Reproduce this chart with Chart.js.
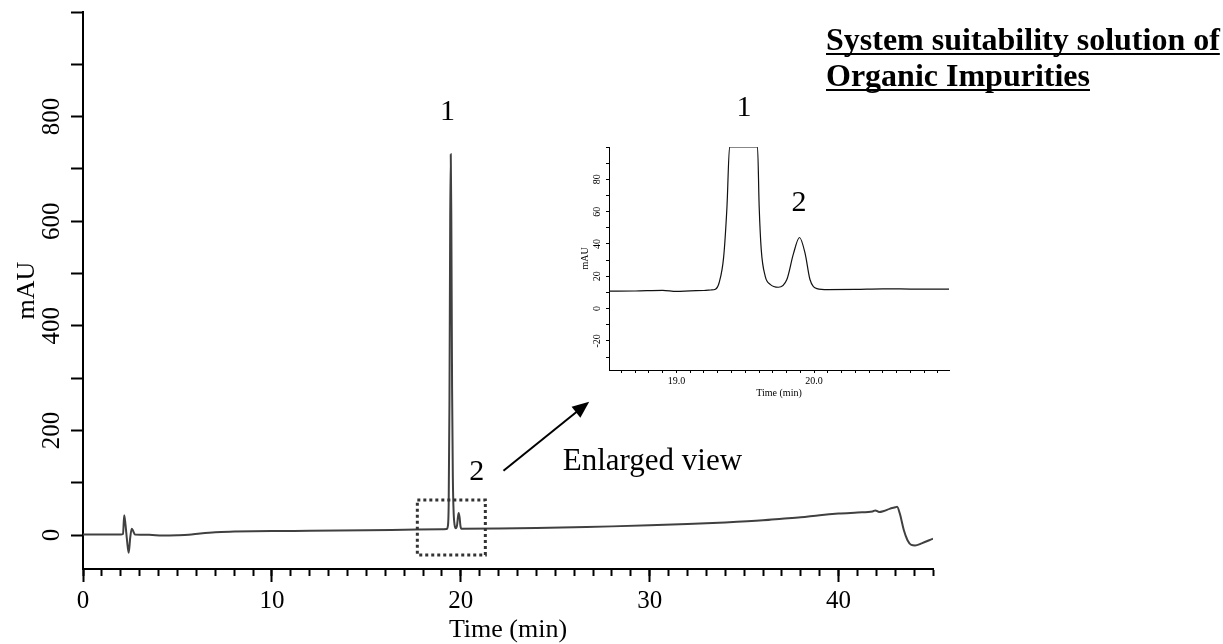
<!DOCTYPE html>
<html>
<head>
<meta charset="utf-8">
<script src="https://cdn.jsdelivr.net/npm/chart.js@4.4.1/dist/chart.umd.min.js"></script>
<style>
  body { margin: 0; background: #fff; }
  #wrap { position: relative; width: 1223px; height: 644px; }
  #main { position: absolute; left: 0; top: 0; }
  #inset { position: absolute; left: 560px; top: 80px; }
</style>
</head>
<body>
<div id="wrap">
  <canvas id="main" width="1223" height="644"></canvas>
  <canvas id="inset" width="400" height="330"></canvas>
</div>
<script>
// full run, 0-45 min
const timeMain = [0, 1, 2.0, 2.12, 2.18, 2.25, 2.33, 2.42, 2.5, 2.58, 2.65, 2.75, 3.5, 4.2, 5.0, 5.6, 6.2, 7, 8, 10, 12, 15, 17, 19.0,
  19.25, 19.32, 19.36, 19.4, 19.44, 19.47, 19.5, 19.54, 19.58, 19.62, 19.67, 19.74, 19.8, 19.85, 19.89, 19.94, 19.98, 20.03,
  22, 24, 26, 28, 30, 32, 34, 36, 37, 38, 39, 40, 41, 41.8, 41.95, 42.15, 42.4, 42.7, 43.0, 43.1, 43.25, 43.45, 43.65, 43.85, 44.05, 44.4, 45];
const mauMain = [1, 1, 1, 2, 38, 20, -10, -34, -5, 12, 8, 1, 0.5, -1, -0.5, 0.5, 3, 5.5, 6.5, 7.5, 8, 9, 10, 11,
  11.5, 18, 60, 250, 600, 728, 600, 280, 110, 45, 20, 13, 18, 34, 42, 33, 18, 12,
  12.5, 13.5, 15, 16.5, 18.5, 21, 24, 28, 31, 34, 38, 41, 43, 45, 47, 44, 46, 50, 53, 54, 40, 10, -10, -19, -20, -16, -7];

// enlarged view, 18.5-21 min
const timeZoom = [18.51, 18.7, 18.9, 19.0, 19.1, 19.2, 19.25, 19.283, 19.31, 19.343, 19.367, 19.386, 19.589, 19.601, 19.616,
  19.645, 19.681, 19.741, 19.802, 19.85, 19.894, 19.935, 19.97, 20.02, 20.1, 20.3, 20.5, 20.7, 20.98];
const mauZoom = [10.8, 10.9, 11.3, 10.6, 11, 11.2, 11.5, 12, 16, 32, 63, 100, 100, 63, 36.5,
  20, 15, 13.2, 18, 34, 44, 34, 18, 12.4, 11.8, 11.9, 12.2, 12.1, 12];

const peakLabels = ["1", "2"];
const titleLines = ["System suitability solution of", "Organic Impurities"];

const serif = "'Liberation Serif', 'Times New Roman', serif";
Chart.defaults.font.family = serif;
Chart.defaults.color = "#000";

const toPoints = (xs, ys) => xs.map((t, i) => ({ x: t, y: ys[i] }));

const annotateMain = {
  id: "annotateMain",
  afterDraw(chart) {
    const { ctx } = chart;
    const x = chart.scales.x;
    const y = chart.scales.y;
    ctx.save();

    // dotted box around the zoomed window
    const bx1 = x.getPixelForValue(17.7), bx2 = x.getPixelForValue(21.3);
    const by1 = y.getPixelForValue(67), by2 = y.getPixelForValue(-38);
    ctx.setLineDash([3, 3]);
    ctx.lineWidth = 3;
    ctx.strokeStyle = "#333";
    ctx.strokeRect(bx1, by1, bx2 - bx1, by2 - by1);
    ctx.setLineDash([]);

    // arrow to the inset
    const ax1 = x.getPixelForValue(22.26), ay1 = y.getPixelForValue(123);
    const ax2 = x.getPixelForValue(26.8), ay2 = y.getPixelForValue(255);
    const ang = Math.atan2(ay2 - ay1, ax2 - ax1);
    ctx.strokeStyle = "#000";
    ctx.lineWidth = 2;
    ctx.beginPath();
    ctx.moveTo(ax1, ay1);
    ctx.lineTo(ax2 - 12 * Math.cos(ang), ay2 - 12 * Math.sin(ang));
    ctx.stroke();
    ctx.fillStyle = "#000";
    ctx.beginPath();
    ctx.moveTo(ax2, ay2);
    ctx.lineTo(ax2 - 17 * Math.cos(ang) + 7 * Math.sin(ang), ay2 - 17 * Math.sin(ang) - 7 * Math.cos(ang));
    ctx.lineTo(ax2 - 17 * Math.cos(ang) - 7 * Math.sin(ang), ay2 - 17 * Math.sin(ang) + 7 * Math.cos(ang));
    ctx.closePath();
    ctx.fill();

    // peak numbers
    ctx.font = "30px " + serif;
    ctx.textAlign = "center";
    ctx.textBaseline = "middle";
    ctx.fillText(peakLabels[0], x.getPixelForValue(19.3), y.getPixelForValue(808));
    ctx.fillText(peakLabels[1], x.getPixelForValue(20.85), y.getPixelForValue(120));

    ctx.font = "31px " + serif;
    ctx.textAlign = "left";
    ctx.fillText("Enlarged view", x.getPixelForValue(25.4), y.getPixelForValue(140));

    // title, bold and underlined
    ctx.font = "bold 32px " + serif;
    ctx.textBaseline = "alphabetic";
    ctx.lineWidth = 2;
    titleLines.forEach((line, i) => {
      const bl = 50 + i * 36;
      ctx.fillText(line, 826, bl);
      const w = ctx.measureText(line).width;
      ctx.beginPath();
      ctx.moveTo(826, bl + 4);
      ctx.lineTo(826 + w, bl + 4);
      ctx.stroke();
    });
    ctx.restore();
  },
};

new Chart(document.getElementById("main"), {
  type: "line",
  data: {
    datasets: [
      {
        data: toPoints(timeMain, mauMain),
        borderColor: "#404040",
        borderWidth: 2,
        pointRadius: 0,
        cubicInterpolationMode: "monotone",
      },
    ],
  },
  options: {
    responsive: false,
    animation: false,
    layout: { padding: { left: 0, top: 12, right: 290, bottom: 0 } },
    plugins: { legend: { display: false }, tooltip: { enabled: false } },
    scales: {
      xMinor: {
        type: "linear",
        position: "bottom",
        weight: 0,
        min: 0,
        max: 45,
        ticks: { display: false, stepSize: 1, autoSkip: false, includeBounds: false },
        grid: { drawOnChartArea: false, tickLength: 7, tickWidth: 2, tickColor: "#000" },
        border: { display: true, color: "#000", width: 2 },
        afterFit: (s) => { s.height = 0; s.paddingLeft = 0; s.paddingRight = 0; },
      },
      x: {
        type: "linear",
        position: "bottom",
        weight: 1,
        min: 0,
        max: 45,
        ticks: {
          stepSize: 10,
          autoSkip: false,
          includeBounds: false,
          maxRotation: 0,
          padding: 4,
          font: { size: 25 },
        },
        grid: { drawOnChartArea: false, tickLength: 13, tickWidth: 2, tickColor: "#000" },
        border: { display: true, color: "#000", width: 2 },
        title: { display: true, text: "Time (min)", font: { size: 26, lineHeight: 1 }, padding: { top: 0, bottom: 1 } },
        afterFit: (s) => { s.height = 75; s.paddingLeft = 0; s.paddingRight = 0; },
      },
      y: {
        type: "linear",
        min: -65,
        max: 1000,
        ticks: {
          stepSize: 100,
          autoSkip: false,
          includeBounds: false,
          minRotation: 90,
          maxRotation: 90,
          crossAlign: "center",
          padding: 0,
          font: { size: 25 },
          callback: (v) => (v % 200 === 0 && v < 1000 ? String(v) : ""),
        },
        grid: { drawOnChartArea: false, tickLength: 12, tickWidth: 2, tickColor: "#000" },
        border: { display: true, color: "#000", width: 2 },
        title: { display: true, text: "mAU", font: { size: 26 }, padding: { top: 12, bottom: 0 } },
        afterFit: (s) => { s.width = 83; s.paddingTop = 0; s.paddingBottom = 0; },
      },
    },
  },
  plugins: [annotateMain],
});

const annotateInset = {
  id: "annotateInset",
  afterDraw(chart) {
    const { ctx } = chart;
    const x = chart.scales.x;
    const y = chart.scales.y;
    ctx.save();
    ctx.font = "30px " + serif;
    ctx.fillStyle = "#000";
    ctx.textAlign = "center";
    ctx.textBaseline = "middle";
    ctx.fillText(peakLabels[0], x.getPixelForValue(19.49), chart.chartArea.top - 39);
    ctx.fillText(peakLabels[1], x.getPixelForValue(19.89), y.getPixelForValue(65));
    ctx.restore();
  },
};

new Chart(document.getElementById("inset"), {
  type: "line",
  data: {
    datasets: [
      {
        data: toPoints(timeZoom, mauZoom),
        borderColor: "#111",
        borderWidth: 1.2,
        pointRadius: 0,
        cubicInterpolationMode: "monotone",
      },
    ],
  },
  options: {
    responsive: false,
    animation: false,
    layout: { padding: { left: 0, top: 67, right: 11, bottom: 0 } },
    plugins: { legend: { display: false }, tooltip: { enabled: false } },
    scales: {
      x: {
        type: "linear",
        min: 18.51,
        max: 20.98,
        ticks: {
          stepSize: 0.1,
          autoSkip: false,
          includeBounds: false,
          maxRotation: 0,
          padding: 2,
          font: { size: 10 },
          callback: (v) => (Math.abs(v - Math.round(v)) < 1e-6 ? v.toFixed(1) : ""),
        },
        grid: { drawOnChartArea: false, tickLength: 3, tickWidth: 1, tickColor: "#000" },
        border: { display: true, color: "#000", width: 1 },
        title: { display: true, text: "Time (min)", font: { size: 10 }, padding: { top: 0, bottom: 11 } },
        afterFit: (s) => { s.height = 40; s.paddingLeft = 0; s.paddingRight = 0; },
      },
      y: {
        type: "linear",
        min: -38,
        max: 100,
        ticks: {
          stepSize: 10,
          autoSkip: false,
          includeBounds: false,
          minRotation: 90,
          maxRotation: 90,
          crossAlign: "center",
          padding: 2,
          font: { size: 10 },
          callback: (v) => (v % 20 === 0 && v < 100 ? String(v) : ""),
        },
        grid: { drawOnChartArea: false, tickLength: 3, tickWidth: 1, tickColor: "#000" },
        border: { display: true, color: "#000", width: 1 },
        title: { display: true, text: "mAU", font: { size: 10 }, padding: { top: 19, bottom: 0 } },
        afterFit: (s) => { s.width = 49; s.paddingTop = 0; s.paddingBottom = 0; },
      },
    },
  },
  plugins: [annotateInset],
});
</script>
</body>
</html>
